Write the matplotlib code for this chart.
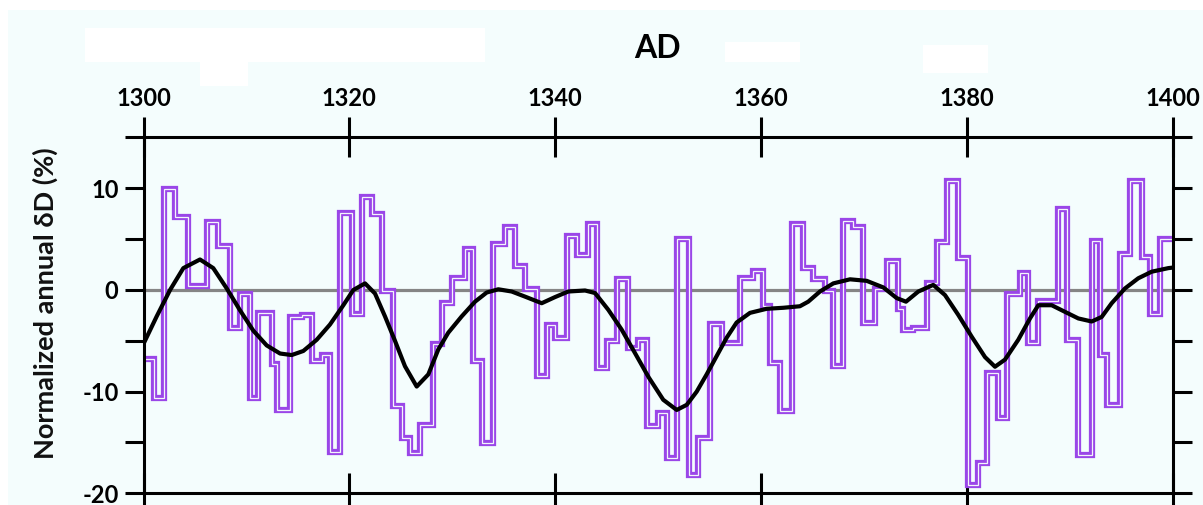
import numpy as np
import matplotlib
matplotlib.use("Agg")
import matplotlib.pyplot as plt
import matplotlib.patheffects as pe
from matplotlib.patches import Rectangle

# ---- data ----
# step series: left edge of each step (years) and normalized annual dD (%)
step_edges = [1300.0, 1301.05, 1302.0, 1303.06, 1304.35, 1306.2, 1307.27, 1308.4, 1309.38,
              1310.35, 1311.16, 1312.46, 1312.94, 1314.24, 1315.37, 1316.35, 1317.32,
              1318.12, 1319.1, 1320.23, 1321.2, 1322.18, 1323.15, 1324.28, 1325.09,
              1325.9, 1326.87, 1328.16, 1328.98, 1329.95, 1331.24, 1332.05, 1332.87,
              1334.0, 1335.13, 1336.1, 1337.07, 1338.21, 1339.21, 1340.0, 1341.13,
              1342.1, 1343.23, 1344.04, 1345.01, 1346.04, 1347.11, 1348.08, 1348.9,
              1350.03, 1350.85, 1351.82, 1353.04, 1353.92, 1355.05, 1356.19, 1357.97,
              1359.26, 1360.23, 1360.88, 1361.85, 1362.99, 1364.12, 1365.09, 1366.23,
              1367.04, 1368.01, 1368.98, 1369.95, 1371.09, 1372.22, 1373.35, 1373.84,
              1374.81, 1376.11, 1377.08, 1378.06, 1379.18, 1380.15, 1381.13, 1381.94,
              1383.07, 1383.95, 1385.18, 1385.99, 1386.96, 1388.9, 1389.72, 1390.85,
              1392.15, 1392.96, 1393.61, 1394.9, 1395.87, 1397.01, 1397.82, 1398.79, 1400.0]
step_values = [-6.8, -10.6, 9.9, 7.2, 0.4, 6.65, 4.35, -3.7, -0.4,
               -10.6, -2.3, -7.3, -11.8, -2.7, -2.5, -7.0, -6.35,
               -15.9, 7.6, -2.4, 9.1, 7.5, -0.1, -11.45, -14.6,
               -16.05, -13.25, -5.35, -1.25, 1.2, 4.0, -7.0, -15.1,
               4.5, 6.15, 2.4, 0.05, -8.5, -3.4, -4.7, 5.3,
               3.4, 6.5, -7.65, -5.0, 1.05, -5.7, -4.9, -13.4,
               -12.1, -16.5, 5.0, -18.2, -14.6, -3.3, -5.2, 1.2,
               1.9, -1.6, -7.2, -11.9, 6.5, 2.2, 1.05, -0.1,
               -7.5, 6.8, 6.15, -3.2, 0.1, 2.9, -1.9, -3.9,
               -3.7, 0.7, 4.7, 10.75, 3.1, -19.2, -17.0, -8.15,
               -12.6, -0.4, 1.7, -5.2, -1.1, 8.0, -4.9, -16.2,
               4.8, -6.35, -11.3, 3.5, 10.75, 3.2, -2.4, 5.0]

# smoothed curve (read point by point)
smooth_years = [1300.0, 1301.28, 1302.58, 1303.87, 1305.49, 1306.78, 1308.09, 1309.38,
                1310.67, 1311.97, 1313.27, 1314.4, 1315.53, 1316.83, 1318.12, 1319.42,
                1320.39, 1321.53, 1322.5, 1323.47, 1324.44, 1325.41, 1326.55, 1327.68,
                1328.65, 1329.62, 1330.92, 1332.22, 1333.35, 1334.48, 1335.78, 1337.07,
                1338.7, 1339.99, 1341.28, 1342.91, 1343.88, 1345.17, 1346.47, 1347.76,
                1349.1, 1350.51, 1351.82, 1352.79, 1353.76, 1354.73, 1355.7, 1356.67,
                1357.64, 1358.94, 1360.56, 1362.18, 1363.79, 1364.6, 1365.74, 1367.04,
                1368.66, 1370.28, 1371.9, 1373.2, 1374.1, 1375.3, 1376.75, 1377.89,
                1379.18, 1380.49, 1381.78, 1382.75, 1383.72, 1385.01, 1386.15, 1386.96,
                1388.26, 1389.55, 1390.85, 1392.15, 1393.12, 1394.09, 1395.38, 1396.67,
                1397.98, 1399.59, 1400.0]
smooth_values = [-5.3, -2.6, 0.0, 2.15, 3.0, 2.15, 0.15, -2.0,
                 -4.0, -5.45, -6.25, -6.4, -6.0, -4.9, -3.4, -1.5,
                 0.0, 0.65, -0.35, -2.6, -5.0, -7.5, -9.5, -8.3,
                 -5.85, -4.2, -2.6, -1.15, -0.25, 0.07, -0.15, -0.65,
                 -1.3, -0.7, -0.15, -0.05, -0.3, -1.95, -3.9, -6.2,
                 -8.6, -10.8, -11.8, -11.3, -10.0, -8.3, -6.5, -4.7,
                 -3.2, -2.25, -1.85, -1.75, -1.6, -1.15, -0.15, 0.65,
                 1.05, 0.9, 0.25, -0.8, -1.15, -0.15, 0.5, -0.5,
                 -2.45, -4.6, -6.6, -7.55, -6.85, -4.9, -2.8, -1.5,
                 -1.5, -2.15, -2.8, -3.1, -2.65, -1.3, 0.15, 1.15,
                 1.8, 2.15, 2.2]

x_ticks = [1300, 1320, 1340, 1360, 1380, 1400]
y_ticks = [-20, -10, 0, 10]
y_minor = [-15, -5, 5, 15]

# ---- styling ----
W, H = 1203, 505
BG = '#F4FDFD'
PURPLE = '#9A46E8'
FONT = ['Lato', 'DejaVu Sans']
plt.rcParams['font.family'] = FONT

fig = plt.figure(figsize=(W / 100, H / 100), dpi=100)
fig.patch.set_facecolor(BG)

# white erased patches from the reference
for (x0, y0, w, h) in [(0, 0, W, 10), (0, 0, 8, H), (85, 28, 400, 34), (200, 62, 48, 24),
                       (725, 42, 75, 20), (923, 45, 65, 28)]:
    fig.patches.append(Rectangle((x0 / W, 1 - (y0 + h) / H), w / W, h / H,
                                 transform=fig.transFigure, facecolor='white',
                                 edgecolor='none', zorder=0))

left_px, right_px, top_px, bot_px = 143.5, 1172.5, 137.5, 493.3
ax = fig.add_axes([left_px / W, 1 - bot_px / H, (right_px - left_px) / W, (bot_px - top_px) / H])
ax.set_facecolor(BG)
ax.set_xlim(1300, 1400)
ax.set_ylim(-20, 15)

ax.axhline(0, color='#858585', lw=2.3, zorder=1)

yv = list(step_values) + [step_values[-1]]
ax.plot(step_edges, yv, drawstyle='steps-post', color='#F3F5FA', lw=0.9,
        solid_joinstyle='miter', zorder=2,
        path_effects=[pe.Stroke(linewidth=4.5, foreground=PURPLE, joinstyle='miter'), pe.Normal()])

ax.plot(smooth_years, smooth_values, color='black', lw=3.0, solid_capstyle='round',
        solid_joinstyle='round', zorder=4)

for s in ax.spines.values():
    s.set_linewidth(2.2)
    s.set_color('black')

ax.set_xticks(x_ticks)
ax.xaxis.set_ticks_position('both')
ax.tick_params(axis='x', which='major', direction='inout', length=29, width=2.2,
               top=True, bottom=True, labeltop=True, labelbottom=False, pad=5,
               labelsize=17, colors='black')
for lab in ax.get_xticklabels():
    lab.set_fontweight('bold')

ax.set_yticks(y_ticks)
ax.set_yticks(y_minor, minor=True)
ax.tick_params(axis='y', which='both', direction='out', length=14, width=2.2,
               left=True, right=True, labelleft=True, labelright=False, pad=4,
               labelsize=17, colors='black')
ax.set_yticklabels([str(v) for v in y_ticks], fontweight='bold')

fig.text(657 / W, 1 - 49 / H, 'AD', fontsize=23, fontweight='bold', ha='center', va='center')
fig.text(45 / W, 1 - 303 / H, 'Normalized annual δD (%)', fontsize=19.5, fontweight='bold',
         rotation=90, ha='center', va='center', color='#111111')

fig.savefig('out.png', dpi=100, facecolor=BG)
